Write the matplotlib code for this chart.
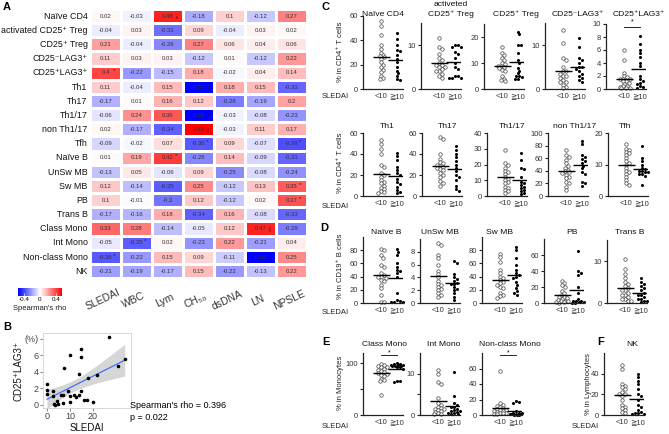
import numpy as np
import matplotlib
matplotlib.use('Agg')
import matplotlib.pyplot as plt

plt.rcParams['font.family'] = ['Liberation Sans', 'DejaVu Sans', 'Noto Sans CJK JP']

W, H = 669, 434

# ---------------- A: correlation heat map ----------------
cell_rows = ['Naïve CD4', 'activated CD25⁺ Treg', 'CD25⁺ Treg', 'CD25⁻LAG3⁺', 'CD25⁺LAG3⁺',
             'Th1', 'Th17', 'Th1/17', 'non Th1/17', 'Tfh', 'Naïve B', 'UnSw MB', 'Sw MB',
             'PB', 'Trans B', 'Class Mono', 'Int Mono', 'Non-class Mono', 'NK']
clin_cols = ['SLEDAI', 'WBC', 'Lym', 'CH₅₀', 'dsDNA', 'LN', 'NPSLE']
rho = [
    [0.02, -0.03, 0.48, -0.18, 0.10, -0.12, 0.27],
    [-0.04, 0.03, -0.31, 0.09, -0.04, 0.03, 0.02],
    [0.21, -0.04, -0.26, 0.27, 0.06, 0.04, 0.06],
    [0.11, 0.03, 0.03, -0.12, 0.01, -0.12, 0.22],
    [0.40, -0.22, -0.15, 0.18, -0.02, 0.04, 0.14],
    [0.11, -0.04, 0.15, -0.57, 0.18, 0.15, -0.33],
    [-0.17, 0.01, 0.16, 0.12, -0.28, -0.19, 0.20],
    [-0.06, 0.24, 0.36, -0.59, -0.03, -0.08, -0.23],
    [0.02, -0.17, -0.34, 0.59, -0.03, 0.11, 0.17],
    [-0.09, -0.02, 0.07, -0.36, 0.09, -0.07, -0.38],
    [0.01, 0.19, 0.42, -0.26, 0.14, -0.09, -0.33],
    [-0.13, 0.05, -0.06, 0.09, -0.25, -0.08, -0.24],
    [0.12, -0.14, -0.35, 0.25, -0.12, 0.13, 0.35],
    [0.10, -0.01, -0.30, 0.12, -0.12, 0.02, 0.37],
    [-0.17, -0.16, 0.18, -0.34, 0.16, -0.08, -0.33],
    [0.33, 0.28, -0.14, -0.05, 0.12, 0.47, -0.28],
    [-0.05, -0.35, 0.02, -0.23, 0.22, -0.21, 0.04],
    [-0.36, -0.22, 0.15, 0.09, -0.11, -0.56, 0.25],
    [-0.21, -0.19, -0.17, 0.15, -0.22, -0.13, 0.22],
]
sig_marks = [(0, 2, '**'), (4, 0, '*'), (5, 3, '***'), (7, 3, '***'), (8, 3, '***'),
             (9, 3, '*'), (9, 6, '*'), (10, 2, '*'), (12, 6, '*'), (13, 6, '*'),
             (15, 5, '***'), (16, 1, '*'), (17, 0, '*'), (17, 5, '**')]

# ---------------- B: scatter SLEDAI vs CD25+LAG3+ ----------------
b_sledai = [27, 15, 15, 10, 7.5, 14, 18, 22, 31, 34, 0, 0, 0, 2.5, 2.5, 3, 3.5, 4.5,
            5, 6, 7, 7, 9, 10, 10, 12, 12.5, 14, 15, 16, 17.5, 20]
b_lag3 = [8.2, 6.8, 5.8, 6.0, 4.5, 3.7, 3.2, 3.6, 4.7, 5.5, 2.5, 1.8, 1.3, 1.6, 1.1, 0.1,
          0.0, 0.4, 0.1, 1.2, 1.2, 0.2, 1.6, 1.0, 0.3, 1.2, 0.9, 1.2, 1.6, 0.5, 0.5, 0.3]

# ---------------- C-F: subsets by SLEDAI <10 / >=10 ----------------
naive_cd4_lo = [56, 52, 44, 36, 33, 30, 28, 27, 26, 25, 22, 20, 18, 16, 14, 11, 9, 8]
naive_cd4_hi = [46, 41, 36, 32, 31, 28, 25, 22, 18, 15, 13, 11, 8, 7]
act_treg_lo = [11.5, 9.5, 9, 8, 7, 6.5, 6, 5.5, 5.5, 5, 5, 4.5, 4, 4, 3.5, 3, 2.5]
act_treg_hi = [10, 10, 9.5, 9.5, 8.5, 8, 7, 6, 5, 4.5, 3, 3, 2.5, 2.5, 2.5]
treg_lo = [16, 14, 13, 12, 11, 10, 9.5, 9, 9, 8.5, 8, 7.5, 7, 5, 4, 3.5, 3]
treg_hi = [22, 21, 17, 17, 14, 11, 10, 8, 7, 6, 5, 5, 4.5, 4, 4]
lag3_neg_lo = [13.5, 10.5, 7, 6.5, 5, 4, 4, 3.5, 3, 3, 2.5, 2, 1.5, 1.5, 1, 0.5, 0.3]
lag3_neg_hi = [11.5, 9.5, 7, 6.5, 6, 5, 5, 4.5, 4, 3.5, 3, 2.5, 2, 1.5]
lag3_pos_lo = [6, 4.5, 2.5, 2, 1.8, 1.6, 1.5, 1.5, 1.3, 1.2, 1, 0.8, 0.5, 0.4, 0.3, 0.2, 0.1, 0.1]
lag3_pos_hi = [8.2, 7, 6, 5.5, 5, 4, 3.5, 2, 1.5, 1.2, 1, 0.8, 0.5, 0.3, 0.2]
th1_lo = [53, 50, 45, 40, 30, 28, 22, 20, 18, 15, 13, 12, 10, 8, 7, 5, 4, 3]
th1_hi = [41, 38, 34, 28, 25, 22, 20, 16, 13, 11, 9, 6, 4, 3]
th17_lo = [56, 54, 40, 35, 32, 31, 30, 29, 28, 27, 26, 25, 22, 20, 18, 14, 12, 10]
th17_hi = [48, 44, 40, 37, 33, 30, 27, 24, 20, 18, 15, 10, 7, 5]
th1_17_lo = [29, 21, 20, 18, 16, 15, 14, 12, 11, 10, 9, 8, 6, 5, 4, 3, 2]
th1_17_hi = [27, 23, 18, 17, 12, 9, 8, 7, 6, 5, 4, 3, 2, 1]
non_th_lo = [73, 65, 62, 57, 52, 48, 45, 42, 40, 38, 37, 33, 30, 28, 22, 20, 15, 10]
non_th_hi = [88, 83, 65, 62, 58, 55, 52, 48, 44, 38, 35, 22, 20, 16]
tfh_lo = [16.5, 15, 14.5, 14, 13.5, 13, 12, 11, 10.5, 10, 9, 8, 7.5, 7, 6, 5, 4, 3.5]
tfh_hi = [16, 12, 11, 10, 9, 8.5, 8, 8, 7.5, 7.5, 7, 7, 6.5, 3.5]
naive_b_lo = [82, 80, 72, 68, 58, 55, 45, 42, 40, 40, 38, 35, 33, 28, 22, 12, 2, 1]
naive_b_hi = [82, 78, 72, 60, 55, 50, 48, 45, 40, 15, 5, 3, 2, 1, 1]
unsw_lo = [9.3, 9, 7.5, 7, 6, 5, 4.5, 4, 3.5, 3, 2.8, 2.5, 2.2, 2, 1.5, 1.2, 1]
unsw_hi = [6.5, 6.3, 4.5, 4, 3.8, 3.5, 3.2, 3, 3, 2.5, 2.2, 2, 1.5, 1, 0.5]
sw_lo = [75, 70, 62, 50, 45, 40, 38, 35, 32, 30, 28, 25, 22, 15, 12, 10, 8]
sw_hi = [85, 80, 68, 58, 50, 45, 42, 40, 38, 32, 28, 22, 18, 15, 12]
pb_lo = [28, 25, 22, 20, 15, 12, 10, 8, 7, 6, 5, 4, 3, 2, 2, 1, 1, 0.5]
pb_hi = [65, 40, 38, 35, 20, 12, 5, 3, 2, 2, 1, 1, 0.5, 0.5]
trans_lo = [10.5, 8, 7, 6, 5, 4.5, 4, 3.5, 3, 3, 2.5, 2, 2, 1.5, 1, 1, 0.5, 0.5]
trans_hi = [6, 5, 4.5, 4, 3.5, 3, 2.5, 2, 2, 1.5, 1, 1, 0.5, 0.5, 0.3]
cmono_lo = [98, 96, 95, 93, 92, 90, 88, 85, 84, 82, 80, 78, 75, 70, 68, 65, 38]
cmono_hi = [100, 99, 98, 97, 97, 96, 95, 95, 94, 93, 92, 90, 66, 65, 64]
imono_lo = [11, 10, 8, 7.5, 4, 3, 2.5, 2, 1.8, 1.5, 1.5, 1.2, 1, 0.8, 0.5, 0.3, 0.2]
imono_hi = [10.3, 4.5, 3, 2.5, 2, 2, 1.5, 1.3, 1, 1, 0.8, 0.6, 0.5, 0.3, 0.2]
ncmono_lo = [57, 15, 13, 12, 10, 9, 8, 7, 6, 5, 5, 4, 3, 3, 2, 1, 1]
ncmono_hi = [18, 17, 15, 5, 3, 2, 2, 1.5, 1, 1, 0.8, 0.5, 0.5, 0.3]
nk_lo = [48, 45, 30, 28, 27, 25, 22, 20, 20, 18, 15, 10, 8, 7, 5, 3, 2]
nk_hi = [40, 37, 33, 30, 25, 20, 18, 15, 10, 8, 5, 3, 2, 2, 1, 1]

group_labels = ['<10', '≧10']


def box(x0, y0, x1, y1):
    # pixel box (from top-left) -> figure fraction rect
    return [x0 / W, 1 - y1 / H, (x1 - x0) / W, (y1 - y0) / H]


def ftxt(x, y, s, **kw):
    fig.text(x / W, 1 - y / H, s, **kw)


def fmt(v):
    return f'{v:.2f}'.rstrip('0')


def swarm(vals, ypx, d=2.8, step=1.5, nmax=4):
    # simple beeswarm: place from the top, nearest free slot, else least crowded
    vals = np.asarray(vals, float)
    placed = []
    offs = np.zeros(len(vals))
    cands = [0.0]
    for j in range(1, nmax + 1):
        cands += [j * step, -j * step]
    for i in np.argsort(-vals):
        y = vals[i] * ypx
        best, best_gap = cands[0], -1
        for c in cands:
            gap = min([np.hypot(c - px, y - py) for px, py in placed] + [99])
            if gap >= d:
                best = c
                break
            if gap > best_gap:
                best, best_gap = c, gap
        placed.append((best, y))
        offs[i] = best
    return offs


fig = plt.figure(figsize=(W / 100, H / 100), dpi=100)

# ---- A ----
axA = fig.add_axes(box(90, 9, 307, 278))
mesh = axA.pcolormesh(np.arange(8), np.arange(20), np.array(rho), cmap='bwr',
                      vmin=-0.55, vmax=0.55, edgecolors='white', linewidth=1)
axA.set_xlim(0, 7)
axA.set_ylim(19, 0)
axA.axis('off')
for r in range(len(cell_rows)):
    for c in range(len(clin_cols)):
        axA.text(c + 0.5, r + 0.52, fmt(rho[r][c]), ha='center', va='center',
                 fontsize=4.3, color='#333333')
    axA.text(-0.08, r + 0.52, cell_rows[r], ha='right', va='center', fontsize=6.4,
             color='#111111')
for r, c, m in sig_marks:
    if m == '*':
        axA.text(c + 0.78, r + 0.38, m, ha='center', va='center', fontsize=4.5, color='#222222')
    else:
        axA.text(c + 0.85, r + 0.5, m, ha='center', va='center', fontsize=3.6,
                 rotation=90, color='#222222')
for c, lab in enumerate(clin_cols):
    ftxt(105 + c * 31 - 2, 300, lab, ha='center', va='center', rotation=25,
         fontsize=7.5, color='#333333')

cax = fig.add_axes(box(18, 288, 62, 296))
cb = fig.colorbar(mesh, cax=cax, orientation='horizontal', ticks=[-0.4, 0, 0.4])
cb.outline.set_visible(False)
cb.ax.set_xticklabels(['-0.4', '0', '0.4'])
cb.ax.tick_params(labelsize=4.5, length=2, width=0.5, color='white', direction='in', pad=1)
ftxt(40, 308, "Spearman's rho", ha='center', va='center', fontsize=5.5, color='#222222')

# ---- B ----
axB = fig.add_axes(box(43, 333, 131, 408))
bx = np.array(b_sledai)
by = np.array(b_lag3)
slope, icpt = np.polyfit(bx, by, 1)
xs = np.linspace(bx.min(), bx.max(), 100)
n = len(bx)
res = by - (slope * bx + icpt)
s = np.sqrt(np.sum(res ** 2) / (n - 2))
se = s * np.sqrt(1 / n + (xs - bx.mean()) ** 2 / np.sum((bx - bx.mean()) ** 2))
fit = slope * xs + icpt
axB.fill_between(xs, fit - 2.04 * se, fit + 2.04 * se, color='#999999', alpha=0.4, lw=0)
axB.plot(xs, fit, color='#3366FF', lw=0.8)
axB.scatter(bx, by, s=2.5, color='black', zorder=3)
axB.set_xlim(-1.75, 36.75)
axB.set_ylim(-0.42, 8.72)
axB.set_xticks([0, 10, 20])
axB.set_yticks([0, 2, 4, 6, 8])
axB.set_yticklabels(['0', '2', '4', '6', '(%)'])
for sp in axB.spines.values():
    sp.set_color('#d0d0d0')
    sp.set_linewidth(0.6)
axB.tick_params(labelsize=6.5, length=2, width=0.5, color='#555555', labelcolor='#444444', pad=1)
axB.set_xlabel('SLEDAI', fontsize=7, labelpad=1, color='#111111')
axB.set_ylabel('CD25⁺LAG3⁺', fontsize=7, labelpad=1, color='#111111')
ftxt(130, 406, "Spearman's rho = 0.396", ha='left', va='center', fontsize=6.5)
ftxt(130, 418, 'p = 0.022', ha='left', va='center', fontsize=6.5)

# ---- C-F dot plots ----
G1, G2 = 1.2, 2.2
panels = [
    # lo, hi, left, top, bottom, ymax, ticks, ticklabels
    (naive_cd4_lo, naive_cd4_hi, 363, 16, 89, 60, [0, 20, 40, 60], None),
    (act_treg_lo, act_treg_hi, 421, 23, 89, 15, [0, 10], None),
    (treg_lo, treg_hi, 484, 24, 89, 25, [0, 10, 20], None),
    (lag3_neg_lo, lag3_neg_hi, 545, 23, 89, 15, [0, 10], None),
    (lag3_pos_lo, lag3_pos_hi, 606, 24, 89, 10, [0, 2, 4, 6, 8, 10], None),
    (th1_lo, th1_hi, 363, 133, 196, 60, [0, 20, 40, 60], None),
    (th17_lo, th17_hi, 422, 133, 196, 60, [0, 20, 40, 60], None),
    (th1_17_lo, th1_17_hi, 487, 133, 196, 40, [0, 10, 20, 30, 40], None),
    (non_th_lo, non_th_hi, 548, 133, 196, 100, [0, 20, 40, 60, 80, 100], None),
    (tfh_lo, tfh_hi, 608, 133, 196, 20, [0, 10, 20], None),
    (naive_b_lo, naive_b_hi, 363, 237, 303, 100, [0, 20, 40, 60, 80], None),
    (unsw_lo, unsw_hi, 420, 239, 303, 10, [0, 2, 4, 6, 8], None),
    (sw_lo, sw_hi, 482, 237, 303, 100, [0, 20, 40, 60, 80], None),
    (pb_lo, pb_hi, 544, 239, 303, 80, [0, 20, 40, 60], None),
    (trans_lo, trans_hi, 607, 240, 303, 15, [0, 10], None),
    (cmono_lo, cmono_hi, 363, 353, 415, 120, [0, 50, 100], ['0', '', '100']),
    (imono_lo, imono_hi, 420, 353, 415, 15, [0, 5, 10], ['0', '', '10']),
    (ncmono_lo, ncmono_hi, 482, 353, 415, 80, [0, 20, 40, 60], None),
    (nk_lo, nk_hi, 604, 353, 415, 60, [0, 20, 40], None),
]
dot_axes = []
for lo, hi, left, top, bottom, ymax, ticks, tlabs in panels:
    ax = fig.add_axes(box(left, top, left + 40, bottom))
    ypx = (bottom - top) / ymax
    xpx = 40 / 2.6
    ax.plot(G1 + swarm(lo, ypx) / xpx, lo, 'o', ms=2.5, mfc='white', mec='#444444',
            mew=0.5, clip_on=False)
    ax.plot(G2 + swarm(hi, ypx) / xpx, hi, 'o', ms=2.2, color='black', mew=0,
            clip_on=False)
    ax.hlines([np.mean(lo), np.mean(hi)], [G1 - 0.55, G2 - 0.55], [G1 + 0.55, G2 + 0.55],
              color='black', lw=1.0)
    ax.set_xlim(0, 2.6)
    ax.set_ylim(0, ymax)
    ax.set_xticks([G1, G2])
    ax.set_xticklabels(group_labels)
    ax.set_yticks(ticks)
    if tlabs:
        ax.set_yticklabels(tlabs)
    for sp in ['top', 'right']:
        ax.spines[sp].set_visible(False)
    for sp in ['left', 'bottom']:
        ax.spines[sp].set_linewidth(0.9)
        ax.spines[sp].set_color('#222222')
    ax.tick_params(axis='y', labelsize=5.5, length=2.5, width=0.8, pad=1, color='#222222',
                   labelcolor='#333333')
    ax.tick_params(axis='x', labelsize=5.5, length=0, pad=3, labelcolor='#333333')
    dot_axes.append(ax)


def sig_bar(ax, y, ystar):
    ax.plot([G1, G2], [y, y], color='black', lw=0.6, clip_on=False)
    ax.text((G1 + G2) / 2, ystar, '*', ha='center', va='center', fontsize=5, clip_on=False)


sig_bar(dot_axes[4], 9.6, 10.4)
sig_bar(dot_axes[15], 116, 121)
sig_bar(dot_axes[17], 77, 80.5)

titles = [
    ('Naïve CD4', 383, 14), ('activeted', 451, 4), ('CD25⁺ Treg', 451, 14),
    ('CD25⁺ Treg', 516, 14), ('CD25⁻LAG3⁺', 578, 14), ('CD25⁺LAG3⁺', 639, 14),
    ('Th1', 387, 126), ('Th17', 448, 126), ('Th1/17', 512, 126), ('non Th1/17', 575, 126),
    ('Tfh', 625, 126),
    ('Naïve B', 386, 232), ('UnSw MB', 440, 232), ('Sw MB', 500, 232), ('PB', 572, 232),
    ('Trans B', 630, 232),
    ('Class Mono', 385, 344), ('Int Mono', 444, 344), ('Non-class Mono', 510, 344),
    ('NK', 632, 344),
]
for t, x, y in titles:
    ftxt(x, y, t, ha='center', va='center', fontsize=6.1, color='#111111')

for y in [97, 207, 313, 426]:
    ftxt(322, y, 'SLEDAI', ha='left', va='center', fontsize=5.5, color='#222222')
ftxt(572, 426, 'SLEDAI', ha='left', va='center', fontsize=5.5, color='#222222')

ylabs = [('% in CD4⁺ T cells', 340, 52), ('% in CD4⁺ T cells', 340, 163),
         ('% in CD19⁺ B cells', 340, 266), ('% in Monocytes', 340, 383),
         ('% in Lymphocytes', 588, 384)]
for t, x, y in ylabs:
    ftxt(x, y, t, ha='center', va='center', rotation=90, fontsize=5.5, color='#222222')

for lab, x, y in [('A', 3, 7), ('B', 3, 327), ('C', 322, 7), ('D', 320, 228),
                  ('E', 322, 342), ('F', 597, 342)]:
    ftxt(x, y, lab, ha='left', va='center', fontsize=8, fontweight='bold')

fig.savefig('out.png', dpi=100)
